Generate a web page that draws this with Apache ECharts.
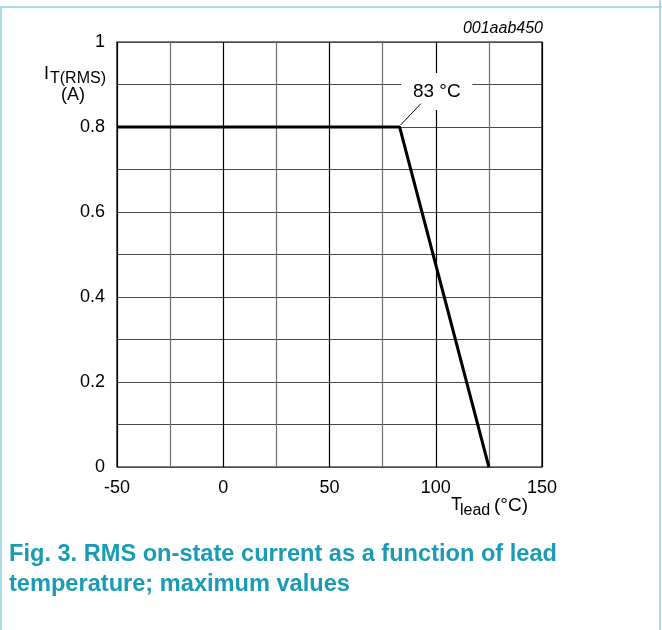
<!DOCTYPE html>
<html>
<head>
<meta charset="utf-8">
<script src="https://cdn.jsdelivr.net/npm/echarts@6/dist/echarts.min.js"></script>
<style>
html,body{margin:0;padding:0;background:#fff;}
#chart{width:662px;height:630px;}
</style>
</head>
<body>
<div id="chart"></div>
<script>
// Data
const temperature = [-50, 83, 125];      // T_lead (°C)
const current = [0.8, 0.8, 0];          // I_T(RMS) (A)
const xTicks = [-50, 0, 50, 100, 150];
const yTicks = [0, 0.2, 0.4, 0.6, 0.8, 1];
const kneeLabel = '83 °C';
const figId = '001aab450';
const caption = ['Fig. 3. RMS on-state current as a function of lead', 'temperature; maximum values'];

const FONT = 'Liberation Sans, Arial, sans-serif';
const chart = echarts.init(document.getElementById('chart'), null, {renderer: 'canvas'});

const points = temperature.map((t, i) => [t, current[i]]);

chart.setOption({
  animation: false,
  backgroundColor: '#fff',
  grid: {left: 117, right: 120, top: 42, bottom: 163, show: true, borderColor: '#000', borderWidth: 1.2, backgroundColor: 'transparent'},
  xAxis: {
    type: 'value', min: -50, max: 150, interval: 25,
    axisLine: {show: false}, axisTick: {show: false},
    axisLabel: {
      color: '#000', fontSize: 18, fontFamily: FONT, margin: 12,
      formatter: v => xTicks.includes(v) ? String(v) : ''
    },
    splitLine: {show: true, lineStyle: {color: ['#000', '#6e6e6e'], width: 1.2}}
  },
  yAxis: {
    type: 'value', min: 0, max: 1, interval: 0.1,
    axisLine: {show: false}, axisTick: {show: false},
    axisLabel: {
      color: '#000', fontSize: 18, fontFamily: FONT, margin: 12,
      formatter: v => {
        const r = Math.round(v * 10) / 10;
        return yTicks.some(t => Math.abs(t - r) < 1e-9) ? String(r) : '';
      }
    },
    splitLine: {show: true, lineStyle: {color: '#4a4a4a', width: 1.2}}
  },
  series: [
    {
      type: 'line', data: [], symbol: 'none', z: 2,
      markPoint: {
        silent: true, symbol: 'rect', symbolSize: [71, 37], z: 2,
        itemStyle: {color: '#fff'},
        label: {show: true, position: 'inside', formatter: kneeLabel, color: '#000', fontSize: 19, fontFamily: FONT},
        data: [{coord: [100.5, 0.8835]}]
      }
    },
    {
      type: 'line', data: points, symbol: 'none',
      lineStyle: {color: '#000', width: 3}, z: 5,
      markLine: {
        silent: true, symbol: 'none', animation: false, z: 6,
        lineStyle: {color: '#000', width: 1, type: 'solid'},
        label: {show: false},
        data: [[{coord: [temperature[1] + 0.5, current[1] + 0.005]}, {coord: [93, 0.855]}]]
      }
    }
  ],
  graphic: [
    // frame
    {type: 'line', shape: {x1: 0, y1: 7, x2: 662, y2: 7}, style: {stroke: '#a9dbe6', lineWidth: 2}},
    {type: 'line', shape: {x1: 1, y1: 7, x2: 1, y2: 630}, style: {stroke: '#a9dbe6', lineWidth: 2}},
    {type: 'line', shape: {x1: 660, y1: 0, x2: 660, y2: 630}, style: {stroke: '#a9dbe6', lineWidth: 2}},
    // figure id
    {type: 'text', right: 119, top: 21, style: {text: figId, font: 'italic 16px ' + FONT, fill: '#000'}},
    // y axis name
    {type: 'text', left: 44, top: 65, style: {text: 'I', font: '18px ' + FONT, fill: '#000'}},
    {type: 'text', left: 50, top: 71, style: {text: 'T(RMS)', font: '16px ' + FONT, fill: '#000'}},
    {type: 'text', left: 61, top: 86, style: {text: '(A)', font: '18px ' + FONT, fill: '#000'}},
    // x axis name
    {type: 'text', left: 451, top: 496, style: {text: 'T', font: '18px ' + FONT, fill: '#000'}},
    {type: 'text', left: 460, top: 503, style: {text: 'lead', font: '16px ' + FONT, fill: '#000'}},
    {type: 'text', left: 494, top: 496, style: {text: '(°C)', font: '19px ' + FONT, fill: '#000'}},
    // caption
    {type: 'text', left: 9, top: 542, style: {text: caption[0], font: 'bold 23.6px ' + FONT, fill: '#1a9bb5'}},
    {type: 'text', left: 9, top: 572, style: {text: caption[1], font: 'bold 23.6px ' + FONT, fill: '#1a9bb5'}}
  ]
});
</script>
</body>
</html>
